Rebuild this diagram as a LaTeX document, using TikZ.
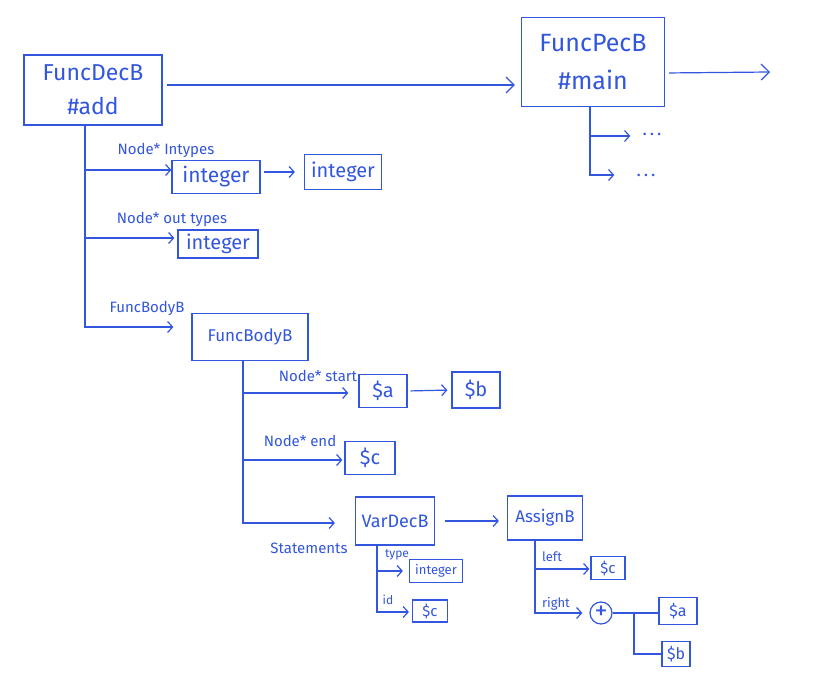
\documentclass[tikz,border=0pt]{standalone}
\usepackage{fontspec}
\setmainfont{Fira Sans}
\usetikzlibrary{arrows.meta,calc}
\definecolor{handblue}{RGB}{50,86,222}
\begin{document}
\begin{tikzpicture}[x=1pt,y=-1pt,
  every node/.style={text=handblue},
  box/.style={draw=handblue,line width=1.2pt,rectangle,inner sep=0pt},
  lbl/.style={font=\fontsize{15}{15}\selectfont,inner sep=0pt},
  conn/.style={draw=handblue,line width=1.2pt},
  arr/.style={conn,-{Straight Barb[length=5pt,width=11pt,line width=1.2pt]}},
  bigarr/.style={conn,-{Straight Barb[length=8pt,width=16pt,line width=1.2pt]}}
]
\useasboundingbox[fill=white] (0,0) rectangle (814,684);

% top-level function declarations
\node[box,minimum width=138,minimum height=70,align=center,font=\fontsize{23}{34}\selectfont] (add) at (93,90) {FuncDecB\\\#add};
\node[box,minimum width=143,minimum height=89,align=center,font=\fontsize{25}{38}\selectfont] (main) at (593,62) {FuncPecB\\\#main};
\coordinate (mainout) at (770,72);
\node[inner sep=0pt,font=\fontsize{18}{18}\selectfont] (dots1) at (652,134) {.\,.\,.};
\node[inner sep=0pt,font=\fontsize{18}{18}\selectfont] (dots2) at (646,175) {.\,.\,.};

\draw[bigarr,shorten <=4pt,shorten >=6pt] ($(add.east)+(0,-5)$) -- ($(main.west)+(0,23)$);
\draw[bigarr,shorten <=4pt] ($(main.east)+(0,11)$) -- (mainout);
\draw[arr,shorten >=12pt] ($(main.south)+(-3,0)$) |- ($(dots1.west)+(0,2)$);
\draw[arr,shorten >=22pt] ($(main.south)+(-3,0)$) |- ($(dots2.west)+(0,0)$);

% FuncDecB #add children
\node[box,minimum width=88,minimum height=33,font=\fontsize{21}{21}\selectfont] (int1) at (216,177) {integer};
\node[box,minimum width=77,minimum height=35,font=\fontsize{20}{20}\selectfont] (int2) at (343,172) {integer};
\node[box,minimum width=80,minimum height=28,font=\fontsize{20}{20}\selectfont] (int3) at (218,244) {integer};
\node[box,minimum width=116,minimum height=47,font=\fontsize{17}{17}\selectfont] (body) at (250,337) {FuncBodyB};

\node[lbl] (l1) at (166,150) {Node* Intypes};
\node[lbl] (l2) at (172,219) {Node* out types};
\node[lbl] (l3) at (147,308) {FuncBodyB};

\draw[arr] ($(add.south)+(-8,0)$) |- ($(int1.west)+(0,-7)$);
\draw[arr,shorten >=3pt] ($(add.south)+(-8,0)$) |- ($(int3.west)+(0,-6)$);
\draw[arr,shorten >=18pt] ($(add.south)+(-8,0)$) |- ($(body.west)+(0,-10)$);
\draw[arr,shorten <=3pt,shorten >=9pt] ($(int1.east)+(0,-5)$) -- ($(int2.west)+(0,0)$);

% FuncBodyB children
\node[box,minimum width=48,minimum height=33,font=\fontsize{20}{20}\selectfont] (a1) at (383,391) {\$a};
\node[box,minimum width=48,minimum height=36,font=\fontsize{20}{20}\selectfont] (b1) at (476,390) {\$b};
\node[box,minimum width=50,minimum height=33,font=\fontsize{20}{20}\selectfont] (c1) at (370,458) {\$c};
\node[box,minimum width=79,minimum height=48,font=\fontsize{18}{18}\selectfont] (vardec) at (395,521) {VarDecB};
\node[box,minimum width=75,minimum height=44,font=\fontsize{17}{17}\selectfont] (assign) at (545,518) {AssignB};

\node[lbl] (l4) at (318,376) {Node* start};
\node[lbl] (l5) at (300,441) {Node* end};
\node[lbl] (l6) at (309,548) {Statements};

\draw[arr,shorten >=10pt] ($(body.south)+(-7,0)$) |- ($(a1.west)+(0,2)$);
\draw[arr,shorten >=2pt] ($(body.south)+(-7,0)$) |- ($(c1.west)+(0,2)$);
\draw[arr,shorten >=20pt] ($(body.south)+(-7,0)$) |- ($(vardec.west)+(0,2)$);
\draw[arr,shorten <=3pt,shorten >=4pt] (a1.east) -- (b1.west);
\draw[arr,shorten <=10pt,shorten >=8pt] (vardec.east) -- (assign.west |- vardec.east);

% VarDecB children
\node[box,minimum width=53,minimum height=23,font=\fontsize{13}{13}\selectfont] (int4) at (436,571) {integer};
\node[box,minimum width=35,minimum height=22,font=\fontsize{15}{15}\selectfont] (c2) at (430,611) {\$c};
\node[lbl,font=\fontsize{12}{12}\selectfont] (l7) at (397,555) {type};
\node[lbl,font=\fontsize{12}{12}\selectfont] (l8) at (388,600) {id};
\draw[arr,shorten >=6pt] ($(vardec.south)+(-18,0)$) |- (int4.west);
\draw[arr,shorten >=3pt] ($(vardec.south)+(-18,0)$) |- ($(c2.west)+(0,1)$);

% AssignB children
\node[box,minimum width=34,minimum height=23,font=\fontsize{15}{15}\selectfont] (c3) at (608,568) {\$c};
\node[draw=handblue,line width=1.2pt,circle,minimum size=22,inner sep=0pt,font=\fontsize{26}{26}\selectfont] (plus) at (601,613) {+};
\node[box,minimum width=38,minimum height=27,font=\fontsize{16}{16}\selectfont] (a2) at (678,611) {\$a};
\node[box,minimum width=28,minimum height=25,font=\fontsize{16}{16}\selectfont] (b2) at (676,654) {\$b};
\node[lbl,font=\fontsize{13}{13}\selectfont] (l9) at (552,557) {left};
\node[lbl,font=\fontsize{13}{13}\selectfont] (l10) at (556,604) {right};
\draw[arr,shorten >=1pt] ($(assign.south)+(-10,0)$) |- ($(c3.west)+(0,1)$);
\draw[arr,shorten >=7pt] ($(assign.south)+(-10,0)$) |- (plus.west);
\coordinate (split) at (634,613);
\draw[conn] (plus.east) -- (a2.west |- plus.east);
\draw[conn] (split) |- (b2.west);
\end{tikzpicture}
\end{document}
